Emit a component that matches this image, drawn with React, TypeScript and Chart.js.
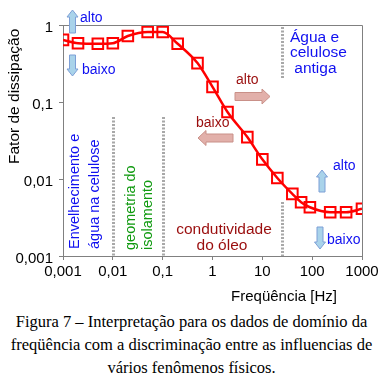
import React, { useEffect, useRef } from "react";
import { Chart, registerables } from "chart.js";

Chart.register(...registerables);

// ---- data ----
const frequencyHz = [0.001, 0.002, 0.005, 0.01, 0.02, 0.05, 0.1, 0.2, 0.5, 1, 2, 5, 10, 20, 40, 60, 90, 230, 480, 1000];
const dissipationFactor = [0.64, 0.58, 0.57, 0.58, 0.72, 0.81, 0.81, 0.57, 0.32, 0.157, 0.074, 0.035, 0.018, 0.0103, 0.0064, 0.005, 0.0043, 0.0037, 0.0037, 0.0041];
const xTickValues = [0.001, 0.01, 0.1, 1, 10, 100, 1000];
const xTickLabels = ["0,001", "0,01", "0,1", "1", "10", "100", "1000"];
const yTickValues = [0.001, 0.01, 0.1, 1];
const yTickLabels = ["0,001", "0,01", "0,1", "1"];
const regionBoundariesHz = [0.01, 0.1, 25];

const xTitle = "Freqüência [Hz]";
const yTitle = "Fator de dissipação";
const captionLines = [
  "Figura 7 – Interpretação para os dados de domínio da",
  "freqüência com a discriminação entre as influencias de",
  "vários fenômenos físicos.",
];

const SANS = "'Liberation Sans', Arial, sans-serif";
const BLUE = "#1010f0";
const GREEN = "#109a10";
const DARKRED = "#9a0d0d";
const ARROW_BLUE_FILL = "#a9d3ea";
const ARROW_BLUE_STROKE = "#7d9fd6";
const ARROW_PINK_FILL = "#e2b0aa";
const ARROW_PINK_STROKE = "#c99088";

function arrowV(ctx: CanvasRenderingContext2D, cx: number, yTail: number, yTip: number) {
  const dir = yTip < yTail ? -1 : 1;
  const sw = 3, hw = 5.5, hl = 7;
  const yb = yTip - dir * hl;
  ctx.beginPath();
  ctx.moveTo(cx - sw, yTail);
  ctx.lineTo(cx - sw, yb);
  ctx.lineTo(cx - hw, yb);
  ctx.lineTo(cx, yTip);
  ctx.lineTo(cx + hw, yb);
  ctx.lineTo(cx + sw, yb);
  ctx.lineTo(cx + sw, yTail);
  ctx.closePath();
  ctx.fillStyle = ARROW_BLUE_FILL;
  ctx.fill();
  ctx.lineWidth = 1;
  ctx.strokeStyle = ARROW_BLUE_STROKE;
  ctx.stroke();
}

function arrowH(ctx: CanvasRenderingContext2D, cy: number, xTail: number, xTip: number) {
  const dir = xTip < xTail ? -1 : 1;
  const sh = 4, hh = 7.5, hl = 8;
  const xb = xTip - dir * hl;
  ctx.beginPath();
  ctx.moveTo(xTail, cy - sh);
  ctx.lineTo(xb, cy - sh);
  ctx.lineTo(xb, cy - hh);
  ctx.lineTo(xTip, cy);
  ctx.lineTo(xb, cy + hh);
  ctx.lineTo(xb, cy + sh);
  ctx.lineTo(xTail, cy + sh);
  ctx.closePath();
  ctx.fillStyle = ARROW_PINK_FILL;
  ctx.fill();
  ctx.lineWidth = 1;
  ctx.strokeStyle = ARROW_PINK_STROKE;
  ctx.stroke();
}

function text(ctx: CanvasRenderingContext2D, s: string, x: number, y: number, color: string, size: number, align: CanvasTextAlign = "left") {
  ctx.font = `${size}px ${SANS}`;
  ctx.fillStyle = color;
  ctx.textAlign = align;
  ctx.textBaseline = "middle";
  ctx.fillText(s, x, y);
}

function vtext(ctx: CanvasRenderingContext2D, s: string, cx: number, yStart: number, color: string, size: number, align: CanvasTextAlign = "left") {
  ctx.save();
  ctx.translate(cx, yStart);
  ctx.rotate(-Math.PI / 2);
  text(ctx, s, 0, 0, color, size, align);
  ctx.restore();
}

const annotationPlugin = {
  id: "annotations",
  afterDraw(chart: any) {
    const ctx: CanvasRenderingContext2D = chart.ctx;
    const { left, right, top, bottom } = chart.chartArea;
    const xs = chart.scales.x;
    ctx.save();
    // frame (top + right)
    ctx.strokeStyle = "#808080";
    ctx.lineWidth = 1;
    ctx.beginPath();
    ctx.moveTo(left, top + 0.5);
    ctx.lineTo(right + 0.5, top + 0.5);
    ctx.lineTo(right + 0.5, bottom);
    ctx.stroke();

    // dotted region boundaries
    ctx.strokeStyle = "#a8a8a8";
    ctx.lineWidth = 3;
    ctx.setLineDash([2, 1.5]);
    const segs: [number, number, number][] = [
      [regionBoundariesHz[0], 117, bottom],
      [regionBoundariesHz[1], 117, bottom],
      [regionBoundariesHz[2], 27, 78],
      [regionBoundariesHz[2], 202, bottom],
    ];
    segs.forEach(([f, y0, y1]) => {
      const px = Math.round(xs.getPixelForValue(f)) + 0.5;
      ctx.beginPath();
      ctx.moveTo(px, y0);
      ctx.lineTo(px, y1);
      ctx.stroke();
    });
    ctx.setLineDash([]);

    // arrows
    arrowV(ctx, 72.5, 33, 10);
    arrowV(ctx, 72.5, 55, 76);
    arrowV(ctx, 322, 192, 170);
    arrowV(ctx, 320, 227, 249);
    arrowH(ctx, 96.5, 235, 270);
    arrowH(ctx, 138, 233, 198);

    // labels
    text(ctx, "alto", 80, 18, BLUE, 14);
    text(ctx, "baixo", 82, 70, BLUE, 14);
    text(ctx, "alto", 333, 166, BLUE, 14);
    text(ctx, "baixo", 327, 240, BLUE, 14);
    text(ctx, "alto", 236, 80, DARKRED, 14);
    text(ctx, "baixo", 196, 123, DARKRED, 14);

    text(ctx, "Água e", 290, 38, BLUE, 15.5);
    text(ctx, "celulose", 290, 53, BLUE, 15.5);
    text(ctx, " antiga", 290, 69, BLUE, 15.5);

    text(ctx, "condutividade", 224, 230, DARKRED, 15.5, "center");
    text(ctx, "do óleo", 222, 246, DARKRED, 15.5, "center");

    vtext(ctx, "Envelhecimento e", 75, 249, BLUE, 14.5);
    vtext(ctx, "água na celulose", 95, 249, BLUE, 14.5);
    vtext(ctx, "geometria do", 131, 250, GREEN, 14.5);
    vtext(ctx, "isolamento", 148, 250, GREEN, 14.5);

    // axis titles
    text(ctx, xTitle, 284, 297, "#000", 15, "center");
    vtext(ctx, yTitle, 15, 164, "#000", 15.5);
    ctx.restore();
  },
};

export default function App() {
  const ref = useRef<HTMLCanvasElement>(null);

  useEffect(() => {
    if (!ref.current) return;
    const chart = new Chart(ref.current, {
      type: "line",
      data: {
        datasets: [
          {
            data: frequencyHz.map((f, i) => ({ x: f, y: dissipationFactor[i] })),
            borderColor: "#ff0000",
            borderWidth: 2.5,
            tension: 0.4,
            cubicInterpolationMode: "monotone",
            pointStyle: "rect",
            pointRadius: 7.5,
            pointBorderWidth: 2,
            pointBorderColor: "#ff0000",
            pointBackgroundColor: "rgba(0,0,0,0)",
            fill: false,
          } as any,
        ],
      },
      options: {
        responsive: false,
        animation: false,
        devicePixelRatio: 1,
        layout: { padding: { top: 25, right: 21, left: 0, bottom: 0 } },
        plugins: { legend: { display: false }, tooltip: { enabled: false }, title: { display: false } },
        scales: {
          x: {
            type: "logarithmic",
            min: 0.001,
            max: 1000,
            afterBuildTicks: (s: any) => {
              s.ticks = xTickValues.map((v) => ({ value: v }));
            },
            afterFit: (s: any) => {
              s.height = 49;
            },
            ticks: {
              autoSkip: false,
              maxRotation: 0,
              padding: 3,
              color: "#000",
              font: { family: SANS, size: 15 },
              callback: (v: any) => xTickLabels[xTickValues.indexOf(Number(v))] ?? "",
            },
            grid: { display: true, drawOnChartArea: false, drawTicks: true, tickLength: 4, color: "#808080" },
            border: { display: true, color: "#808080" },
          },
          y: {
            type: "logarithmic",
            min: 0.001,
            max: 1,
            afterBuildTicks: (s: any) => {
              s.ticks = yTickValues.map((v) => ({ value: v }));
            },
            afterFit: (s: any) => {
              s.width = 63;
            },
            ticks: {
              autoSkip: false,
              padding: 6,
              labelOffset: 3,
              color: "#000",
              font: { family: SANS, size: 15 },
              callback: (v: any) => yTickLabels[yTickValues.indexOf(Number(v))] ?? "",
            },
            grid: { display: true, drawOnChartArea: false, drawTicks: true, tickLength: 4, color: "#808080" },
            border: { display: true, color: "#808080" },
          },
        },
      } as any,
      plugins: [annotationPlugin],
    });
    return () => chart.destroy();
  }, []);

  return (
    <div style={{ position: "absolute", left: 0, top: 0, width: 383, height: 378, background: "#fff", overflow: "hidden" }}>
      <canvas ref={ref} width={383} height={305} style={{ position: "absolute", left: 0, top: 0, width: 383, height: 305 }} />
      <div
        style={{
          position: "absolute",
          left: 0,
          top: 310,
          width: 383,
          textAlign: "center",
          fontFamily: "'Liberation Serif', 'Times New Roman', serif",
          fontSize: 16.5,
          lineHeight: "23px",
          whiteSpace: "nowrap",
          color: "#000",
        }}
      >
        {captionLines.map((l, i) => (
          <div key={i}>{l}</div>
        ))}
      </div>
    </div>
  );
}
